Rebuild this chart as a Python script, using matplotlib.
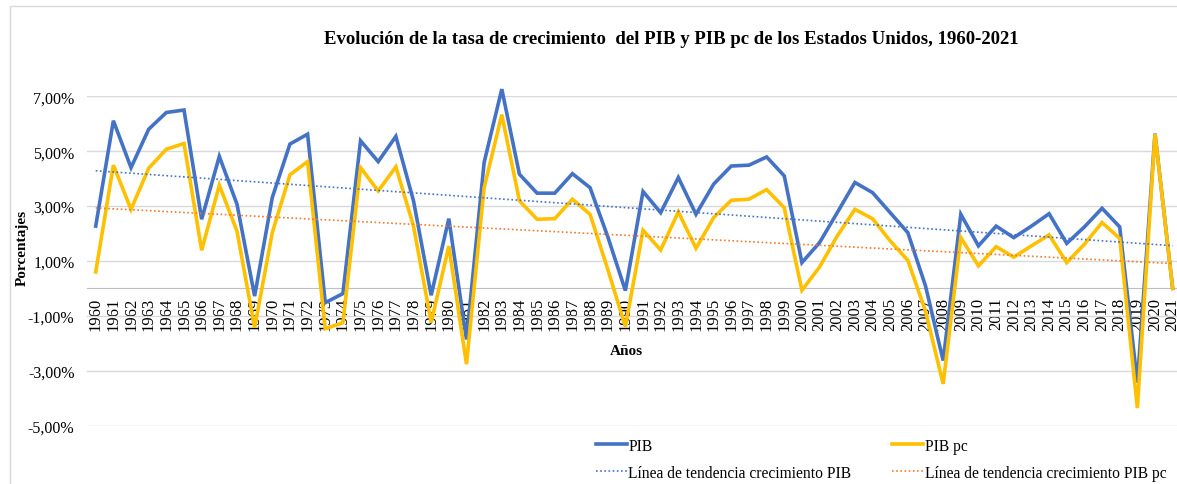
import numpy as np
import matplotlib
matplotlib.use('Agg')
import matplotlib.pyplot as plt
from matplotlib.ticker import FuncFormatter, FixedLocator
from matplotlib.patches import Rectangle

plt.rcParams['font.family'] = ['Liberation Serif', 'DejaVu Serif']

years = list(range(1960, 2022))
pib = [2.27, 6.11, 4.40, 5.80, 6.41, 6.50, 2.52, 4.81, 3.07, -0.28,
       3.31, 5.26, 5.62, -0.52, -0.19, 5.38, 4.62, 5.54, 3.19, -0.25,
       2.54, -1.86, 4.59, 7.26, 4.16, 3.47, 3.47, 4.18, 3.67, 1.89,
       -0.08, 3.53, 2.76, 4.04, 2.70, 3.80, 4.46, 4.49, 4.79, 4.10,
       0.94, 1.67, 2.76, 3.86, 3.49, 2.76, 2.03, 0.09, -2.63, 2.70,
       1.55, 2.27, 1.85, 2.27, 2.72, 1.64, 2.24, 2.92, 2.24, -3.44,
       5.64, 0.0]
pib_pc = [0.60, 4.49, 2.88, 4.38, 5.07, 5.28, 1.39, 3.76, 2.09, -1.43,
          2.03, 4.14, 4.62, -1.47, -1.25, 4.40, 3.55, 4.43, 2.27, -1.24,
          1.54, -2.76, 3.67, 6.33, 3.19, 2.52, 2.54, 3.25, 2.70, 0.70,
          -1.40, 2.12, 1.40, 2.79, 1.46, 2.58, 3.21, 3.25, 3.60, 2.94,
          -0.07, 0.78, 1.91, 2.88, 2.54, 1.73, 1.02, -0.83, -3.48, 1.85,
          0.82, 1.52, 1.14, 1.55, 1.95, 0.94, 1.61, 2.40, 1.82, -4.36,
          5.62, 0.0]
yticks = [-5, -3, -1, 1, 3, 5, 7]

W, H = 1177, 485
fig = plt.figure(figsize=(W / 100, H / 100), dpi=100)
fig.patches.append(Rectangle((9.5 / W, -0.5), 2, 1.5 - 7.3 / H, transform=fig.transFigure,
                             fill=False, edgecolor='#d9d9d9', linewidth=1))

ax = fig.add_axes([86.9 / W, 1 - 426.6 / H, (1181.5 - 86.9) / W, (426.6 - 97.3) / H])
for s in ['top', 'right', 'left']:
    ax.spines[s].set_visible(False)
ax.spines['bottom'].set_position(('data', 0))
ax.spines['bottom'].set_color('#bfbfbf')

x = np.array(years)
ax.plot(x, pib, color='#4472C4', lw=2.6, label='PIB', zorder=3, solid_joinstyle='miter', clip_on=False)
ax.plot(x, pib_pc, color='#FFC000', lw=2.6, label='PIB pc', zorder=4, solid_joinstyle='miter', clip_on=False)

c1 = np.polyfit(x, pib, 1)
c2 = np.polyfit(x, pib_pc, 1)
ax.plot(x, np.polyval(c1, x), color='#4472C4', lw=1.2, ls=(0, (1, 1.5)),
        label='Línea de tendencia crecimiento PIB', zorder=5)
ax.plot(x, np.polyval(c2, x), color='#ED7D31', lw=1.2, ls=(0, (1, 1.5)),
        label='Línea de tendencia crecimiento PIB pc', zorder=5)

ax.set_xlim(1959.5, 2021.5)
ax.set_ylim(-5, 7)
ax.yaxis.set_major_locator(FixedLocator(yticks))
ax.yaxis.set_major_formatter(FuncFormatter(lambda v, p: f'{v:.2f}%'.replace('.', ',')))
ax.grid(axis='y', color='#d9d9d9', lw=1)
ax.set_axisbelow(True)
ax.set_xticks(years)
ax.set_xticklabels([str(y) for y in years])
ax.tick_params(axis='x', length=0, pad=6, labelrotation=90, labelsize=12)
ax.tick_params(axis='y', length=0, pad=9, labelsize=11.5)

fig.text(671 / W, 1 - 40 / H, 'Evolución de la tasa de crecimiento  del PIB y PIB pc de los Estados Unidos, 1960-2021',
         ha='center', va='center', fontsize=13.5, fontweight='bold')
fig.text(22 / W, 1 - 248 / H, 'Porcentajes', rotation=90, ha='center', va='center',
         fontsize=11, fontweight='bold')
fig.text(626 / W, 1 - 352 / H, 'Años', ha='center', va='center', fontsize=11, fontweight='bold')

h, l = ax.get_legend_handles_labels()
order = [0, 2, 1, 3]
fig.legend([h[i] for i in order], [l[i] for i in order], ncol=2, frameon=False,
           loc='upper left', bbox_to_anchor=(588 / W, 1 - 431 / H), fontsize=11.2,
           handlelength=2.0, handletextpad=0.1, columnspacing=2.6, borderpad=0,
           labelspacing=0.7)

fig.savefig('out.png', dpi=100)
